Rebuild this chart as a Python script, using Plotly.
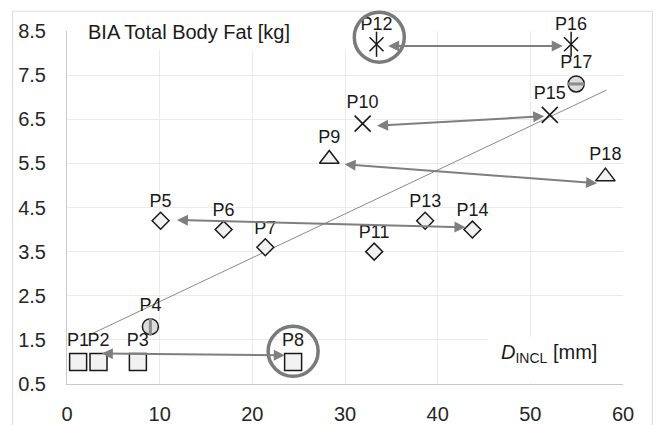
import plotly.graph_objects as go

# ---------------- data ----------------
point_labels = ["P1", "P2", "P3", "P4", "P5", "P6", "P7", "P8", "P9",
                "P10", "P11", "P12", "P13", "P14", "P15", "P16", "P17", "P18"]
d_incl = [1.2, 3.4, 7.65, 9.0, 10.1, 16.9, 21.4, 24.4, 28.3,
          31.9, 33.15, 33.4, 38.65, 43.75, 52.1, 54.4, 54.95, 58.1]
body_fat = [1.0, 1.0, 1.0, 1.8, 4.2, 4.0, 3.6, 1.0, 5.6,
            6.4, 3.5, 8.2, 4.2, 4.0, 6.6, 8.2, 7.3, 5.2]
marker_kind = ["square", "square", "square", "circle_v", "diamond", "diamond", "diamond",
               "square", "triangle", "x", "diamond", "asterisk", "diamond", "diamond",
               "x", "asterisk", "circle_h", "triangle"]

trend_x = [2.5, 58.2]
trend_y = [1.62, 7.16]

arrow_x_start = [3.6, 11.7, 29.8, 33.3, 34.5]
arrow_y_start = [1.19, 4.22, 5.48, 6.35, 8.16]
arrow_x_end = [23.5, 43.0, 57.2, 51.5, 53.5]
arrow_y_end = [1.15, 4.05, 5.05, 6.57, 8.16]

highlight_x = [33.7, 24.4]
highlight_y = [8.36, 1.24]

x_ticks = [0, 10, 20, 30, 40, 50, 60]
y_ticks = [0.5, 1.5, 2.5, 3.5, 4.5, 5.5, 6.5, 7.5, 8.5]

y_title = "BIA Total Body Fat [kg]"
x_title = "<i>D</i><sub>INCL</sub> [mm]"

FONT = "Liberation Sans, Arial, sans-serif"
FS = 20
LABEL_FS = 18
INK = "#1a1a1a"
fig = go.Figure()

# trend line
fig.add_trace(go.Scatter(x=trend_x, y=trend_y, mode="lines",
                         line=dict(color="#8a8a8a", width=1), hoverinfo="skip"))


def subset(kind):
    idx = [i for i, k in enumerate(marker_kind) if k == kind]
    return ([d_incl[i] for i in idx], [body_fat[i] for i in idx],
            [point_labels[i] for i in idx])


styles = {
    "square": dict(symbol="square", size=17, color="#f2f2f2", line=dict(color=INK, width=1.5)),
    "diamond": dict(symbol="diamond", size=13, color="#f2f2f2", line=dict(color=INK, width=1.5)),
    "triangle": dict(symbol="triangle-up", size=17, color="#f2f2f2", line=dict(color=INK, width=1.5)),
    "x": dict(symbol="x-thin-open", size=16, color=INK, line=dict(color=INK, width=1.6)),
    "asterisk": dict(symbol="x-thin-open", size=14, color=INK, line=dict(color=INK, width=1.5)),
    "circle_v": dict(symbol="circle", size=16, color="#dcdcdc", line=dict(color=INK, width=1.5)),
    "circle_h": dict(symbol="circle", size=16, color="#dcdcdc", line=dict(color=INK, width=1.5)),
}

for kind, mk in styles.items():
    xs, ys, ts = subset(kind)
    fig.add_trace(go.Scatter(x=xs, y=ys, mode="markers+text", text=ts,
                             textposition="top center",
                             textfont=dict(family=FONT, size=LABEL_FS, color=INK),
                             marker=mk, cliponaxis=False, hoverinfo="skip"))

# extra strokes for asterisks and striped circles
xs, ys, _ = subset("asterisk")
fig.add_trace(go.Scatter(x=xs, y=ys, mode="markers",
                         marker=dict(symbol="line-ns-open", size=18, color=INK,
                                     line=dict(color=INK, width=1.5)),
                         hoverinfo="skip"))
xs, ys, _ = subset("circle_v")
fig.add_trace(go.Scatter(x=xs, y=ys, mode="markers",
                         marker=dict(symbol="line-ns-open", size=12, color="#8c8c8c",
                                     line=dict(color="#8c8c8c", width=3)),
                         hoverinfo="skip"))
xs, ys, _ = subset("circle_h")
fig.add_trace(go.Scatter(x=xs, y=ys, mode="markers",
                         marker=dict(symbol="line-ew-open", size=12, color="#8c8c8c",
                                     line=dict(color="#8c8c8c", width=3)),
                         hoverinfo="skip"))

# highlight rings
fig.add_trace(go.Scatter(x=highlight_x, y=highlight_y, mode="markers",
                         marker=dict(symbol="circle-open", size=50, color="#7a7a7a",
                                     line=dict(color="#7a7a7a", width=3.5)),
                         cliponaxis=False, hoverinfo="skip"))

annotations = []
for x0, y0, x1, y1 in zip(arrow_x_start, arrow_y_start, arrow_x_end, arrow_y_end):
    annotations.append(dict(x=x1, y=y1, ax=x0, ay=y0, xref="x", yref="y",
                            axref="x", ayref="y", text="", showarrow=True,
                            arrowhead=2, startarrowhead=2, arrowside="end+start",
                            arrowsize=1.1, startarrowsize=1.1, arrowwidth=2,
                            arrowcolor="#7f7f7f", standoff=0, startstandoff=0))

annotations.append(dict(x=2.1, y=8.48, xref="x", yref="y", text=y_title,
                        showarrow=False, xanchor="left", yanchor="middle",
                        font=dict(family=FONT, size=FS, color=INK)))
annotations.append(dict(x=46.6, y=1.2, xref="x", yref="y", text=x_title,
                        showarrow=False, xanchor="left", yanchor="middle",
                        font=dict(family=FONT, size=FS, color=INK)))

shapes = [
    # white box behind y title
    dict(type="rect", xref="x", yref="y", x0=0.57, x1=30.6, y0=8.07, y1=8.6,
         fillcolor="white", line=dict(width=0), layer="between"),
    # white box behind x title
    dict(type="rect", xref="x", yref="y", x0=45.3, x1=60.0, y0=0.53, y1=1.57,
         fillcolor="white", line=dict(width=0), layer="between"),
    # outer frame
    dict(type="rect", xref="paper", yref="paper", x0=-0.0978, x1=1.0527,
         y0=-0.2, y1=1.056, line=dict(color="#d9d9d9", width=1),
         fillcolor="rgba(0,0,0,0)", layer="below"),
]

fig.update_layout(
    width=656, height=425,
    margin=dict(l=66.7, r=33.3, t=30.8, b=40.6, autoexpand=False),
    paper_bgcolor="white", plot_bgcolor="white",
    showlegend=False,
    font=dict(family=FONT, size=FS, color="#262626"),
    annotations=annotations, shapes=shapes,
)
fig.update_xaxes(range=[0, 60], tickvals=x_ticks, showgrid=True, gridcolor="#ebebeb",
                 gridwidth=1, zeroline=False, showline=True, linecolor="#c8c8c8",
                 linewidth=1, ticks="", ticklabelstandoff=12, automargin=False,
                 tickfont=dict(family=FONT, size=FS, color="#262626"))
fig.update_yaxes(range=[0.5, 8.5], tickvals=y_ticks, ticktext=[str(v) for v in y_ticks],
                 showgrid=True, gridcolor="#ebebeb", gridwidth=1, zeroline=False,
                 showline=True, linecolor="#c8c8c8", linewidth=1, ticks="",
                 ticklabelstandoff=16, automargin=False,
                 tickfont=dict(family=FONT, size=FS, color="#262626"))

fig.write_html("out.html")
